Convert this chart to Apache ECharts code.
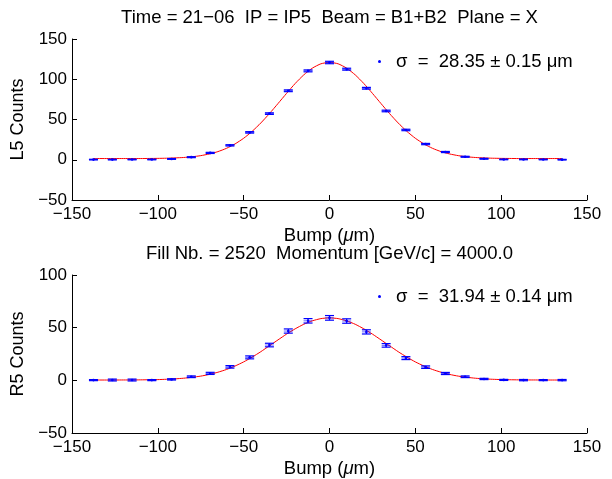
<!DOCTYPE html>
<html>
<head>
<meta charset="utf-8">
<script src="https://cdn.jsdelivr.net/npm/echarts@6/dist/echarts.min.js"></script>
<style>html,body{margin:0;padding:0;background:#fff}#c{width:612px;height:479px}</style>
</head>
<body>
<div id="c"></div>
<script>
// ---------- data ----------
const bumpX = [-137.5, -126.5, -115, -103.5, -92, -80.5, -69.5, -58, -46.5, -35, -24, -12.5, 0, 10, 21.5, 33, 44.5, 56, 67.5, 79, 90, 101.5, 113, 124.5, 135.5];
const l5Counts = [0.2, 0.2, 0.3, 0.3, 1.0, 3.2, 8.5, 17.9, 34, 57.3, 85.7, 110.4, 120.8, 112.5, 88.8, 60.6, 37, 19.5, 9.6, 3.7, 1.2, 0.4, 0.4, 0.3, 0.1];
const l5Err = [0.4, 0.4, 0.4, 0.4, 0.5, 0.6, 0.7, 0.8, 0.9, 1.0, 1.1, 1.2, 1.5, 1.2, 1.1, 1.0, 0.9, 0.8, 0.7, 0.6, 0.5, 0.4, 0.4, 0.4, 0.4];
const r5Counts = [0.2, 0.3, 0.3, 0.2, 0.9, 3.4, 6.6, 12.8, 21.8, 33.5, 46.8, 56.5, 59.3, 56.3, 46.0, 33.2, 21.1, 12.5, 6.5, 3.4, 1.3, 0.4, 0.2, 0.2, 0.2];
const r5Err = [0.5, 0.9, 0.9, 0.5, 0.6, 0.8, 1.0, 1.2, 1.4, 1.7, 2.0, 2.1, 2.2, 2.1, 2.0, 1.7, 1.4, 1.2, 1.0, 0.8, 0.6, 0.5, 0.6, 0.5, 0.6];
const fitX = [-137.5, -135, -130, -125, -120, -115, -110, -105, -100, -95, -90, -85, -80, -75, -70, -65, -60, -55, -50, -45, -40, -35, -30, -25, -20, -15, -10, -5, 0, 5, 10, 15, 20, 25, 30, 35, 40, 45, 50, 55, 60, 65, 70, 75, 80, 85, 90, 95, 100, 105, 110, 115, 120, 125, 130, 135, 135.5];
const l5Fit = [1.5, 1.5, 1.5, 1.5, 1.5, 1.5, 1.5, 1.6, 1.7, 1.9, 2.3, 2.8, 3.7, 5.1, 7.2, 10.1, 14.2, 19.7, 26.7, 35.4, 45.7, 57.3, 69.8, 82.5, 94.7, 105.4, 113.8, 119.2, 121.0, 119.2, 113.8, 105.4, 94.7, 82.5, 69.8, 57.3, 45.7, 35.4, 26.7, 19.7, 14.2, 10.1, 7.2, 5.1, 3.7, 2.8, 2.3, 1.9, 1.7, 1.6, 1.5, 1.5, 1.5, 1.5, 1.5, 1.5, 1.5];
const r5Fit = [0.3, 0.3, 0.3, 0.3, 0.35, 0.35, 0.45, 0.55, 0.7, 1.0, 1.4, 2.0, 2.9, 4.0, 5.6, 7.7, 10.3, 13.6, 17.5, 22.1, 27.2, 32.8, 38.4, 43.9, 48.9, 53.2, 56.5, 58.6, 59.3, 58.6, 56.5, 53.2, 48.9, 43.9, 38.4, 32.8, 27.2, 22.1, 17.5, 13.6, 10.3, 7.7, 5.6, 4.0, 2.9, 2.0, 1.4, 1.0, 0.7, 0.55, 0.45, 0.35, 0.35, 0.3, 0.3, 0.3, 0.3];
const xTicks = {min: -150, max: 150, step: 50};
const yTopTicks = {min: -50, max: 150, step: 50};
const yBotTicks = {min: -50, max: 100, step: 50};
const title1 = 'Time = 21\u221206  IP = IP5  Beam = B1+B2  Plane = X';
const title2 = 'Fill Nb. = 2520  Momentum [GeV/c] = 4000.0';
const legend1 = '\u03c3  =  28.35 \u00b1 0.15 \u03bcm';
const legend2 = '\u03c3  =  31.94 \u00b1 0.14 \u03bcm';

// ---------- chart ----------
const FONT = '"Liberation Sans", Arial, Helvetica, sans-serif';
const BLUE = '#0000ff';
const fmt = v => String(v).replace('-', '\u2212');

function xAxis(gi) {
  return {
    type: 'value', gridIndex: gi, min: xTicks.min, max: xTicks.max, interval: xTicks.step,
    name: '{a|Bump (}{i|\u03bc}{a|m)}', nameLocation: 'middle', nameGap: 26,
    nameTextStyle: {rich: {a: {fontSize: 18.5, fontFamily: FONT, color: '#000'}, i: {fontSize: 18.5, fontFamily: FONT, fontStyle: 'italic', color: '#000'}}},
    axisLine: {show: true, onZero: false, lineStyle: {color: '#000', width: 1}},
    axisTick: {show: true, inside: true, length: 5, lineStyle: {color: '#000'}},
    axisLabel: {color: '#000', fontSize: 17, fontFamily: FONT, margin: 6, formatter: fmt, showMinLabel: true, showMaxLabel: true},
    splitLine: {show: false}
  };
}
function yAxis(gi, t, name) {
  return {
    type: 'value', gridIndex: gi, min: t.min, max: t.max, interval: t.step,
    name: name, nameLocation: 'middle', nameGap: 39,
    nameTextStyle: {fontSize: 18, fontFamily: FONT, color: '#000'},
    axisLine: {show: true, onZero: false, lineStyle: {color: '#000', width: 1}},
    axisTick: {show: true, inside: true, length: 5, lineStyle: {color: '#000'}},
    axisLabel: {color: '#000', fontSize: 17, fontFamily: FONT, margin: 5, formatter: fmt, showMinLabel: true, showMaxLabel: true},
    splitLine: {show: false}
  };
}
function renderErr(params, api) {
  const x = api.value(0), y = api.value(1), e = api.value(2);
  const p = api.coord([x, y]);
  const lo = api.coord([x, y - e]);
  const hi = api.coord([x, y + e]);
  const w = 4.5;
  const st = {stroke: BLUE, lineWidth: 1.2};
  return {type: 'group', children: [
    {type: 'line', shape: {x1: p[0], y1: lo[1], x2: p[0], y2: hi[1]}, style: st},
    {type: 'line', shape: {x1: p[0] - w, y1: lo[1], x2: p[0] + w, y2: lo[1]}, style: st},
    {type: 'line', shape: {x1: p[0] - w, y1: hi[1], x2: p[0] + w, y2: hi[1]}, style: st},
    {type: 'line', shape: {x1: p[0] - w, y1: p[1], x2: p[0] + w, y2: p[1]}, style: {stroke: BLUE, lineWidth: 1, opacity: 0.6}},
    {type: 'circle', shape: {cx: p[0], cy: p[1], r: 1.3}, style: {fill: BLUE}}
  ]};
}
const zip3 = (a, b, c) => a.map((v, i) => [v, b[i], c[i]]);
const zip2 = (a, b) => a.map((v, i) => [v, b[i]]);

const chart = echarts.init(document.getElementById('c'), null, {renderer: 'canvas'});
chart.setOption({
  backgroundColor: '#fff',
  animation: false,
  textStyle: {fontFamily: FONT},
  title: [
    {text: title1, left: 329.5, textAlign: 'center', top: 8, padding: 0, textStyle: {fontSize: 18.5, fontWeight: 'normal', fontFamily: FONT, color: '#000'}},
    {text: title2, left: 329.5, textAlign: 'center', top: 244, padding: 0, textStyle: {fontSize: 18.5, fontWeight: 'normal', fontFamily: FONT, color: '#000'}}
  ],
  legend: [
    {data: [{name: legend1, icon: 'circle'}], left: 378, top: 52, padding: 0, itemWidth: 3, itemHeight: 3, itemGap: 0,
     textStyle: {fontSize: 18.5, fontFamily: FONT, color: '#000', padding: [0, 0, 0, 10]}, selectedMode: false},
    {data: [{name: legend2, icon: 'circle'}], left: 378, top: 287, padding: 0, itemWidth: 3, itemHeight: 3, itemGap: 0,
     textStyle: {fontSize: 18.5, fontFamily: FONT, color: '#000', padding: [0, 0, 0, 10]}, selectedMode: false}
  ],
  grid: [
    {left: 72, right: 25, top: 39, height: 161},
    {left: 72, right: 25, top: 275, height: 161}
  ],
  xAxis: [xAxis(0), xAxis(1)],
  yAxis: [yAxis(0, yTopTicks, 'L5 Counts'), yAxis(1, yBotTicks, 'R5 Counts')],
  series: [
    {type: 'line', xAxisIndex: 0, yAxisIndex: 0, data: zip2(fitX, l5Fit), showSymbol: false, smooth: 0.2,
     lineStyle: {color: '#ff0000', width: 1}, itemStyle: {color: '#ff0000'}, z: 2},
    {type: 'custom', name: legend1, xAxisIndex: 0, yAxisIndex: 0, data: zip3(bumpX, l5Counts, l5Err), renderItem: renderErr,
     itemStyle: {color: BLUE}, z: 3},
    {type: 'line', xAxisIndex: 1, yAxisIndex: 1, data: zip2(fitX, r5Fit), showSymbol: false, smooth: 0.2,
     lineStyle: {color: '#ff0000', width: 1}, itemStyle: {color: '#ff0000'}, z: 2},
    {type: 'custom', name: legend2, xAxisIndex: 1, yAxisIndex: 1, data: zip3(bumpX, r5Counts, r5Err), renderItem: renderErr,
     itemStyle: {color: BLUE}, z: 3}
  ]
});
</script>
</body>
</html>
